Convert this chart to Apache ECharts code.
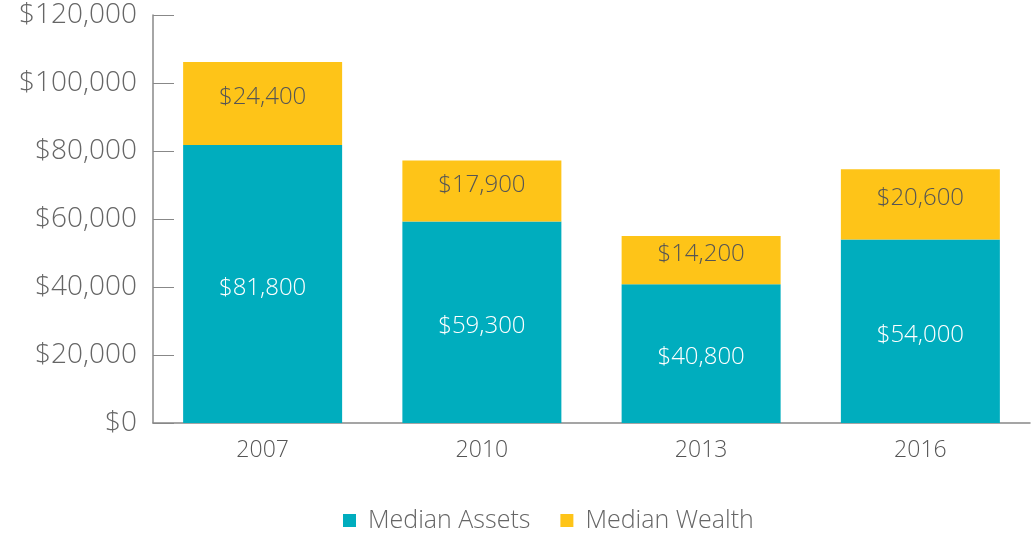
<!DOCTYPE html>
<html lang="en">
  <head>
    <meta charset="UTF-8" />
    <title>Median Assets and Wealth</title>
    <style>
      body {
        margin: 0;
        background: #fff;
      }
      #main {
        width: 1032px;
        height: 535px;
      }
    </style>
  </head>
  <body>
    <div id="main"></div>
    <script src="https://cdn.jsdelivr.net/npm/echarts@6/dist/echarts.min.js"></script>
    <script>
      const years = ["2007", "2010", "2013", "2016"];
      const medianAssets = [81800, 59300, 40800, 54000];
      const medianWealth = [24400, 17900, 14200, 20600];

      const fmt = (v) => "$" + v.toLocaleString("en-US");
      const font = "'Open Sans', Lato, sans-serif";

      const myChart = echarts.init(document.getElementById("main"));
      const option = {
        animation: false,
        textStyle: { fontFamily: font, fontWeight: 300 },
        grid: { left: 153, right: 2, top: 15, bottom: 112 },
        legend: {
          left: 338,
          top: 503,
          itemWidth: 13,
          itemHeight: 13,
          itemGap: 30,
          icon: "rect",
          textStyle: {
            fontSize: 25,
            color: "#666",
            fontFamily: font,
            fontWeight: 300,
            padding: [0, 0, 0, 7],
          },
          data: ["Median Assets", "Median Wealth"],
        },
        xAxis: {
          type: "category",
          data: years,
          axisLine: { lineStyle: { color: "#888", width: 1.5 } },
          axisTick: { inside: true, length: 10, lineStyle: { color: "#888" } },
          axisLabel: { fontSize: 23, color: "#555", margin: 16, fontWeight: 300 },
        },
        yAxis: {
          type: "value",
          min: 0,
          max: 120000,
          interval: 20000,
          splitLine: { show: false },
          axisLine: { show: true, lineStyle: { color: "#888", width: 1.5 } },
          axisTick: { show: true, inside: true, length: 21, lineStyle: { color: "#888" } },
          axisLabel: {
            fontSize: 28,
            color: "#666",
            margin: 16,
            fontWeight: 300,
            formatter: fmt,
          },
        },
        series: [
          {
            name: "Median Assets",
            type: "bar",
            stack: "total",
            barWidth: 159,
            data: medianAssets,
            itemStyle: { color: "#00adbe" },
            label: {
              show: true,
              color: "#fff",
              fontSize: 24,
              fontWeight: 300,
              offset: [0, 4],
              formatter: (p) => fmt(p.value),
            },
          },
          {
            name: "Median Wealth",
            type: "bar",
            stack: "total",
            barWidth: 159,
            data: medianWealth,
            itemStyle: { color: "#fec418" },
            label: {
              show: true,
              color: "#555",
              fontSize: 24,
              fontWeight: 300,
              offset: [0, -6],
              formatter: (p) => fmt(p.value),
            },
          },
        ],
      };
      myChart.setOption(option);
    </script>
  </body>
</html>
